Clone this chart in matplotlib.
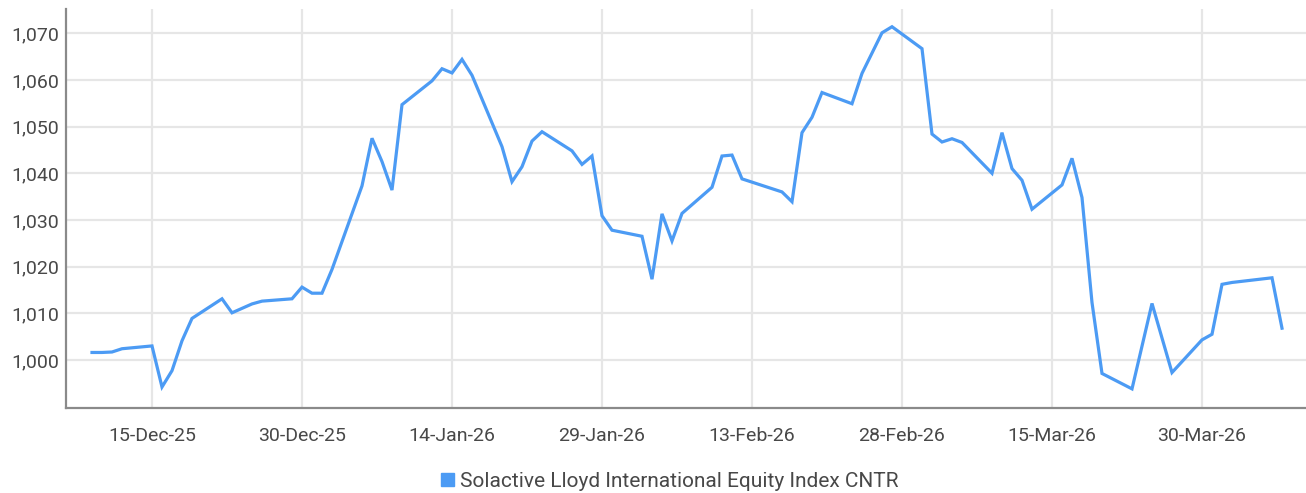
import matplotlib
matplotlib.use("Agg")
import matplotlib.pyplot as plt
import matplotlib.dates as mdates
from matplotlib.patches import Patch
from matplotlib.ticker import FuncFormatter
import pandas as pd

# Solactive Lloyd International Equity Index CNTR
datas = [
    "2025-12-09", "2025-12-10", "2025-12-11", "2025-12-12", "2025-12-15",
    "2025-12-16", "2025-12-17", "2025-12-18", "2025-12-19", "2025-12-22",
    "2025-12-23", "2025-12-25", "2025-12-26", "2025-12-29", "2025-12-30",
    "2025-12-31", "2026-01-01", "2026-01-02", "2026-01-05", "2026-01-06",
    "2026-01-07", "2026-01-08", "2026-01-09", "2026-01-12", "2026-01-13",
    "2026-01-14", "2026-01-15", "2026-01-16", "2026-01-19", "2026-01-20",
    "2026-01-21", "2026-01-22", "2026-01-23", "2026-01-26", "2026-01-27",
    "2026-01-28", "2026-01-29", "2026-01-30", "2026-02-02", "2026-02-03",
    "2026-02-04", "2026-02-05", "2026-02-06", "2026-02-09", "2026-02-10",
    "2026-02-11", "2026-02-12", "2026-02-16", "2026-02-17", "2026-02-18",
    "2026-02-19", "2026-02-20", "2026-02-23", "2026-02-24", "2026-02-26",
    "2026-02-27", "2026-03-02", "2026-03-03", "2026-03-04", "2026-03-05",
    "2026-03-06", "2026-03-09", "2026-03-10", "2026-03-11", "2026-03-12",
    "2026-03-13", "2026-03-16", "2026-03-17", "2026-03-18", "2026-03-19",
    "2026-03-20", "2026-03-23", "2026-03-25", "2026-03-27", "2026-03-30",
    "2026-03-31", "2026-04-01", "2026-04-02", "2026-04-06", "2026-04-07",
]
valores = [
    1001.6, 1001.6, 1001.7, 1002.4, 1003.0,
    994.2, 997.7, 1004.1, 1008.9, 1013.1,
    1010.1, 1012.0, 1012.6, 1013.1, 1015.6,
    1014.3, 1014.3, 1019.4, 1037.3, 1047.5,
    1042.5, 1036.4, 1054.7, 1059.8, 1062.4,
    1061.5, 1064.4, 1061.0, 1045.7, 1038.2,
    1041.4, 1046.9, 1048.9, 1044.8, 1041.9,
    1043.7, 1030.9, 1027.8, 1026.5, 1017.3,
    1031.3, 1025.5, 1031.4, 1037.0, 1043.7,
    1043.9, 1038.8, 1036.0, 1033.9, 1048.7,
    1052.0, 1057.3, 1054.9, 1061.4, 1070.1,
    1071.4, 1066.7, 1048.4, 1046.7, 1047.4,
    1046.6, 1040.0, 1048.7, 1041.0, 1038.5,
    1032.3, 1037.5, 1043.2, 1034.8, 1012.3,
    997.1, 993.8, 1012.1, 997.3, 1004.3,
    1005.5, 1016.2, 1016.6, 1017.6, 1006.8,
]

ticks_x = ["2025-12-15", "2025-12-30", "2026-01-14", "2026-01-29",
           "2026-02-13", "2026-02-28", "2026-03-15", "2026-03-30"]
ticks_y = [1000, 1010, 1020, 1030, 1040, 1050, 1060, 1070]

COR_LINHA = "#4c9bf4"
COR_TEXTO = "#484848"
COR_GRADE = "#e6e6e6"
COR_EIXO = "#8a8a8a"

plt.rcParams["font.family"] = ["Roboto", "DejaVu Sans"]

x = pd.to_datetime(datas)
xt = pd.to_datetime(ticks_x)

fig = plt.figure(figsize=(13.06, 4.93), dpi=100)
ax = fig.add_axes([66 / 1306, 85 / 493, 1 - 66 / 1306, 399 / 493])

ax.plot(x, valores, color=COR_LINHA, linewidth=2.3, solid_joinstyle="miter",
        zorder=3)

inicio = pd.Timestamp("2025-12-15")
ax.set_xlim(inicio - pd.Timedelta(days=8.6), inicio + pd.Timedelta(days=115.4))
ax.set_ylim(989.7, 1075.2)

ax.set_xticks(xt)
ax.xaxis.set_major_formatter(mdates.DateFormatter("%d-%b-%y"))
ax.set_yticks(ticks_y)
ax.yaxis.set_major_formatter(FuncFormatter(lambda v, _: f"{v:,.0f}"))

ax.grid(True, color=COR_GRADE, linewidth=1.6, zorder=0)
ax.set_axisbelow(True)
for lado in ["top", "right"]:
    ax.spines[lado].set_visible(False)
for lado in ["left", "bottom"]:
    ax.spines[lado].set_color(COR_EIXO)
    ax.spines[lado].set_linewidth(1.6)

ax.tick_params(axis="both", length=0, labelsize=14, labelcolor=COR_TEXTO)
ax.tick_params(axis="x", pad=14)
ax.tick_params(axis="y", pad=5)

fig.legend(handles=[Patch(color=COR_LINHA)],
           labels=["Solactive Lloyd International Equity Index CNTR"],
           loc="center", bbox_to_anchor=(0.513, 0.024), frameon=False,
           fontsize=15, labelcolor=COR_TEXTO, handlelength=0.6,
           handleheight=0.6, handletextpad=0.3)

fig.savefig("out.png", dpi=100)
plt.close(fig)
